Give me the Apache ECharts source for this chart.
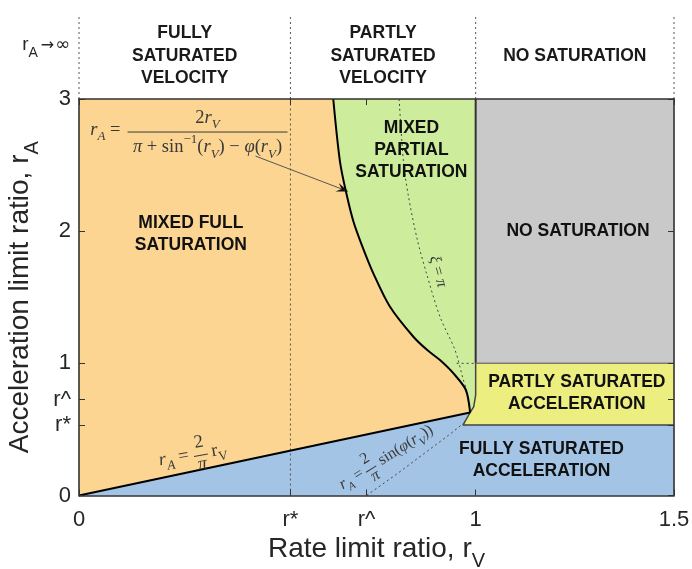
<!DOCTYPE html>
<html><head><meta charset="utf-8">
<script src="https://cdn.jsdelivr.net/npm/echarts@6/dist/echarts.min.js"></script>
<style>html,body{margin:0;padding:0;background:#fff}#c{width:692px;height:569px}</style>
</head><body><div id="c"></div>
<script>
// ---------- data ----------
const rStar = 0.533;
const rHat = 0.725;
const xTickValues = [0, rStar, rHat, 1, 1.5];
const xTickLabels = ['0', 'r*', 'r^', '1', '1.5'];
const yTickValues = [0, rStar, rHat, 1, 2, 3];
const yTickLabels = ['0', 'r*', 'r^', '1', '2', '3'];

// boundary between mixed full and mixed partial saturation
const boundaryX = [0.641, 0.658, 0.675, 0.692, 0.713, 0.742, 0.784, 0.843, 0.878, 0.910, 0.944, 0.975, 0.986];
const boundaryY = [3.000, 2.525, 2.273, 2.071, 1.895, 1.681, 1.428, 1.201, 1.100, 1.025, 0.924, 0.800, 0.628];
// r_A = 2/pi r_V
const linearX = [0, 0.986];
const linearY = [0, 0.628];
// edge of the partly-saturated-acceleration area near r_V = 1
const notchX = [1, 1, 0.995, 0.986, 0.968];
const notchY = [1, 0.76, 0.67, 0.628, rStar];
// xi = pi (dotted)
const xiX = [0.807, 0.818, 0.830, 0.853, 0.876, 0.910, 0.948, 0.969, 0.977, 0.985];
const xiY = [3.000, 2.525, 2.273, 1.933, 1.681, 1.353, 1.100, 0.874, 0.798, 0.640];
const xiCapX = [0.952, 1];
const xiCapY = [1, 1];
// r_A = 2/pi sin(phi(r_V)) (dotted)
const sinX = [0.725, 0.80, 0.88, 0.94, 0.969];
const sinY = [0, 0.16, 0.34, 0.475, 0.546];
// top band
const bandX = [0, rStar, 1, 1.5];
const bandLabels = ['FULLY\nSATURATED\nVELOCITY', 'PARTLY\nSATURATED\nVELOCITY', 'NO SATURATION'];
const regionLabels = ['MIXED FULL\nSATURATION', 'MIXED\nPARTIAL\nSATURATION', 'NO SATURATION', 'PARTLY SATURATED\nACCELERATION', 'FULLY SATURATED\nACCELERATION'];

// ---------- layout / style ----------
const regionLabelAnchors = [[0.282, 1.978], [0.838, 2.613], [1.258, 2.0], [1.255, 0.775], [1.166, 0.268]];
const SANS = "'Liberation Sans', Arial, Helvetica, sans-serif";
const SERIF = "'Liberation Serif', 'Times New Roman', serif";
const AX = '#262626';
const MATH = '#3a3a3a';
const regionColors = {orange: '#FCD592', green: '#CDEC9C', gray: '#C9C9C9', yellow: '#EDEE80', blue: '#A4C4E6'};

const zip = (xs, ys) => xs.map((x, i) => [x, ys[i]]);
const boundaryPts = zip(boundaryX, boundaryY);
const notchPts = zip(notchX, notchY);
const cusp = boundaryPts[boundaryPts.length - 1];
const regions = {
  orange: [[0, 0], [0, 3]].concat(boundaryPts),
  green: boundaryPts.concat([notchPts[2], notchPts[1], [1, 3]]),
  gray: [[1, 1], [1, 3], [1.5, 3], [1.5, 1]],
  yellow: [[1.5, 1], [1.5, rStar]].concat(notchPts.slice().reverse()),
  blue: [[0, 0], cusp, notchPts[4], [1.5, rStar], [1.5, 0]]
};
const regionOrder = ['orange', 'green', 'gray', 'yellow', 'blue'];

function labelFor(v, vals, labs) {
  for (let i = 0; i < vals.length; i++) if (Math.abs(vals[i] - v) < 1e-6) return labs[i];
  return '';
}

const chart = echarts.init(document.getElementById('c'), null, {renderer: 'canvas'});

function lineSeries(pts, color, width, type, z, smooth) {
  return {type: 'line', xAxisIndex: 0, yAxisIndex: 0, data: pts, showSymbol: false, symbol: 'none',
    silent: true, clip: false, z: z || 3, smooth: smooth || false,
    lineStyle: {color: color, width: width, type: type || 'solid'}};
}

const series = [
  {
    type: 'custom', xAxisIndex: 0, yAxisIndex: 0, silent: true, z: 1, clip: false,
    data: regionOrder.map(k => ({name: k, value: [0, 0]})),
    renderItem: function (params, api) {
      const k = regionOrder[params.dataIndex];
      return {type: 'polygon', shape: {points: regions[k].map(p => api.coord(p))},
        style: {fill: regionColors[k], stroke: regionColors[k], lineWidth: 0.5}};
    }
  },
  lineSeries([[rStar, 0], [rStar, 3]], '#555', 1, [2, 3], 2),
  lineSeries(zip(xiX, xiY), '#444', 1, [2, 3], 2, 0.3),
  lineSeries(zip(xiCapX, xiCapY), '#444', 1, [2, 3], 2),
  lineSeries(zip(sinX, sinY), '#444', 1, [2, 3], 2),
  lineSeries([[1, 3], [1, 1]], '#333', 2),
  lineSeries([[1, 1], [1.5, 1]], '#7a7a7a', 1.5),
  lineSeries(notchPts.concat([[1.5, rStar]]), '#444', 1.5),
  lineSeries(boundaryPts, '#000', 2, 'solid', 4, 0.3),
  lineSeries(zip(linearX, linearY), '#000', 2, 'solid', 4)
];
bandX.forEach(x => {
  series.push({type: 'line', xAxisIndex: 2, yAxisIndex: 2, data: [[x, 0], [x, 1]], showSymbol: false,
    symbol: 'none', silent: true, clip: false, lineStyle: {color: '#555', width: 1, type: [2, 3]}});
});

const frameLine = {show: true, onZero: false, lineStyle: {color: '#333', width: 1.6}};
const rich = {
  m: {fontSize: 28, fontFamily: SANS, color: AX, padding: [0, 0, 8, 0], verticalAlign: 'bottom'},
  s: {fontSize: 20, fontFamily: SANS, color: AX, verticalAlign: 'bottom'}
};

chart.setOption({
  animation: false,
  backgroundColor: '#fff',
  grid: [
    {left: 79, right: 18, top: 99, bottom: 73.5, outerBoundsMode: 'none', containLabel: false},
    {left: 79, right: 18, top: 15, height: 84, outerBoundsMode: 'none', containLabel: false}
  ],
  xAxis: [
    {gridIndex: 0, type: 'value', min: 0, max: 1.5, position: 'bottom', z: 10,
      axisLine: frameLine,
      axisTick: {show: true, inside: true, length: 6, customValues: xTickValues, lineStyle: {color: '#333', width: 1}},
      axisLabel: {customValues: xTickValues, formatter: v => labelFor(v, xTickValues, xTickLabels),
        margin: 13, fontSize: 22, color: AX, fontFamily: SANS},
      splitLine: {show: false},
      name: '{m|Rate limit ratio, r}{s|V}', nameLocation: 'middle', nameGap: 34,
      nameTextStyle: {fontSize: 28, color: AX, fontFamily: SANS, rich: rich}},
    {gridIndex: 0, type: 'value', min: 0, max: 1.5, position: 'top', z: 10,
      axisLine: frameLine,
      axisTick: {show: true, inside: true, length: 6, customValues: xTickValues, lineStyle: {color: '#333', width: 1}},
      axisLabel: {show: false}, splitLine: {show: false}},
    {gridIndex: 1, type: 'value', min: 0, max: 1.5, show: false}
  ],
  yAxis: [
    {gridIndex: 0, type: 'value', min: 0, max: 3, position: 'left', z: 10,
      axisLine: frameLine,
      axisTick: {show: true, inside: true, length: 6, customValues: yTickValues, lineStyle: {color: '#333', width: 1}},
      axisLabel: {customValues: yTickValues, formatter: v => labelFor(v, yTickValues, yTickLabels),
        margin: 8, fontSize: 22, color: AX, fontFamily: SANS},
      splitLine: {show: false},
      name: '{m|Acceleration limit ratio, r}{s|A}', nameLocation: 'middle', nameGap: 33,
      nameTextStyle: {fontSize: 28, color: AX, fontFamily: SANS, rich: rich}},
    {gridIndex: 0, type: 'value', min: 0, max: 3, position: 'right', z: 10,
      axisLine: frameLine,
      axisTick: {show: true, inside: true, length: 6, customValues: yTickValues, lineStyle: {color: '#333', width: 1}},
      axisLabel: {show: false}, splitLine: {show: false}},
    {gridIndex: 1, type: 'value', min: 0, max: 1, show: false}
  ],
  series: series
});

// ---------- annotations ----------
const P = (x, y, g) => chart.convertToPixel({gridIndex: g || 0}, [x, y]);
const mrich = fs => {
  const base = {fontFamily: SERIF, fill: MATH, color: MATH, verticalAlign: 'bottom'};
  return {
    i: Object.assign({}, base, {fontStyle: 'italic', fontSize: fs, padding: [0, 0, 4, 0]}),
    n: Object.assign({}, base, {fontSize: fs, padding: [0, 0, 4, 0]}),
    s: Object.assign({}, base, {fontStyle: 'italic', fontSize: Math.round(fs * 0.7)}),
    r: Object.assign({}, base, {fontSize: Math.round(fs * 0.7)}),
    p: Object.assign({}, base, {fontSize: Math.round(fs * 0.7), padding: [0, 0, Math.round(fs * 0.8), 0]})
  };
};
function mtext(txt, x, y, fs, align) {
  return {type: 'text', x: x, y: y, silent: true, z: 30,
    style: {text: txt, rich: mrich(fs), fontSize: fs, fontFamily: SERIF, fill: MATH,
      align: align || 'center', verticalAlign: 'middle'}};
}
function bar(x1, x2, y) {
  return {type: 'line', silent: true, z: 30, shape: {x1: x1, y1: y, x2: x2, y2: y}, style: {stroke: MATH, lineWidth: 1}};
}

const graphics = [];
// region labels
regionLabels.forEach((t, i) => {
  const p = P(regionLabelAnchors[i][0], regionLabelAnchors[i][1]);
  graphics.push({type: 'text', x: p[0], y: p[1], silent: true, z: 30,
    style: {text: t, fontSize: 17.5, fontWeight: 'bold', fontFamily: SANS, fill: '#111',
      align: 'center', verticalAlign: 'middle', lineHeight: 22}});
});
// band labels
bandLabels.forEach((t, i) => {
  const p = P((bandX[i] + bandX[i + 1]) / 2, 0.51, 1);
  graphics.push({type: 'text', x: p[0], y: p[1], silent: true, z: 30,
    style: {text: t, fontSize: 17.5, fontWeight: 'bold', fontFamily: SANS, fill: '#1a1a1a',
      align: 'center', verticalAlign: 'middle', lineHeight: 22.5}});
});
// r_A -> infinity
(function () {
  const p = P(-0.022, 0.607, 1);
  graphics.push({type: 'text', x: p[0], y: p[1], silent: true, z: 30,
    style: {text: '{m|r}{s|A}{a|\u2192}{b|\u221E}', align: 'right', verticalAlign: 'middle',
      rich: {m: {fontSize: 19, fontFamily: SANS, fill: AX, padding: [0, 0, 6, 0], verticalAlign: 'bottom'},
             s: {fontSize: 14, fontFamily: SANS, fill: AX, verticalAlign: 'bottom'},
             a: {fontSize: 16, fontFamily: 'DejaVu Sans', fill: AX, padding: [0, 1, 7, 3], verticalAlign: 'bottom'},
             b: {fontSize: 18, fontFamily: 'DejaVu Sans', fill: AX, padding: [0, 0, 6, 0], verticalAlign: 'bottom'}}}});
})();
// formula 1 with arrow
(function () {
  const c = P(0.324, 2.75);
  graphics.push({type: 'group', x: c[0], y: c[1], z: 30, children: [
    mtext('{i|r}{s|A}{n| =}', -87, 0, 18.5, 'right'),
    mtext('{n|2}{i|r}{s|V}', 0, -12, 18.5),
    bar(-80, 80, 0),
    mtext('{i|\u03C0}{n| + sin}{p|\u22121}{n|(}{i|r}{s|V}{n|) \u2212 }{i|\u03C6}{n|(}{i|r}{s|V}{n|)}', 0, 15, 18.5)
  ]});
  const a = P(0.445, 2.568), b = P(0.679, 2.30);
  const ang = Math.atan2(b[1] - a[1], b[0] - a[0]);
  const L = 12, W = 4.5;
  const ux = Math.cos(ang), uy = Math.sin(ang);
  const back = [b[0] - ux * L, b[1] - uy * L];
  const mid = [b[0] - ux * L * 0.6, b[1] - uy * L * 0.6];
  graphics.push({type: 'line', silent: true, z: 30, shape: {x1: a[0], y1: a[1], x2: mid[0], y2: mid[1]},
    style: {stroke: '#555', lineWidth: 1}});
  graphics.push({type: 'polygon', silent: true, z: 30, shape: {points: [
    b, [back[0] - uy * W, back[1] + ux * W], mid, [back[0] + uy * W, back[1] - ux * W]]},
    style: {fill: '#111'}});
})();
// formula 2: r_A = 2/pi r_V
(function () {
  const c = P(0.29, 0.295);
  graphics.push({type: 'group', x: c[0], y: c[1], rotation: 10 * Math.PI / 180, z: 30, children: [
    mtext('{i|r}{s|A}{n| =}', -5, 0, 18.5, 'right'),
    mtext('{n|2}', 7, -11, 18.5),
    bar(0, 14, 0),
    mtext('{i|\u03C0}', 7, 11, 18.5),
    mtext('{n|r}{r|V}', 18, 0, 18.5, 'left')
  ]});
})();
// formula 3: r_A = 2/pi sin(phi(r_V))
(function () {
  const c = P(0.79, 0.30);
  graphics.push({type: 'group', x: c[0], y: c[1], rotation: 32 * Math.PI / 180, z: 30, children: [
    mtext('{i|r}{s|A}{n| =}', -34, 0, 16, 'right'),
    mtext('{n|2}', -25, -10, 16),
    bar(-31, -19, 0),
    mtext('{i|\u03C0}', -25, 10, 16),
    mtext('{n|sin(}{i|\u03C6}{n|(}{i|r}{s|V}{n|))}', -14, 0, 16, 'left')
  ]});
})();
// xi = pi
(function () {
  const c = P(0.900, 1.69);
  graphics.push({type: 'group', x: c[0], y: c[1], rotation: -75 * Math.PI / 180, z: 30, children: [
    mtext('{i|\u03BE}{n| = }{i|\u03C0}', 0, 0, 16)
  ]});
})();

chart.setOption({graphic: graphics});
</script>
</body></html>
